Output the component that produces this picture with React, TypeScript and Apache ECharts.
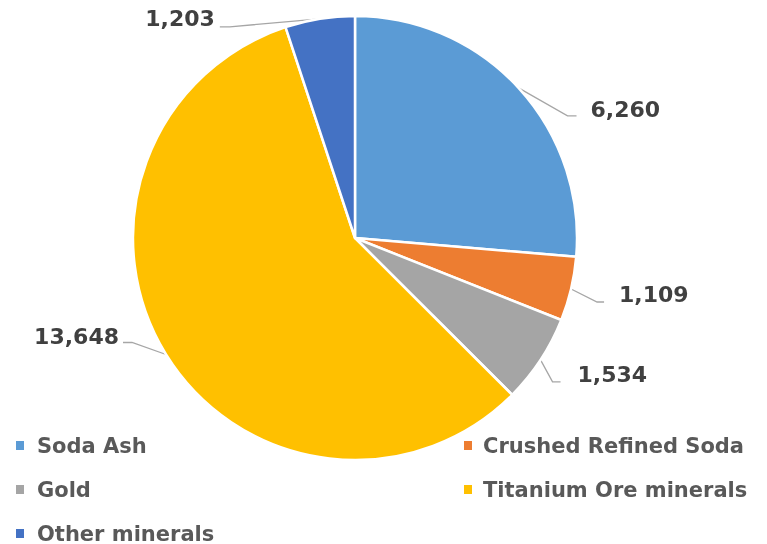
import React, { useEffect, useRef } from "react";
import * as echarts from "echarts";

const categories = ["Soda Ash", "Crushed Refined Soda", "Gold", "Titanium Ore minerals", "Other minerals"];
const values = [6260, 1109, 1534, 13648, 1203];
const colors = ["#5B9BD5", "#ED7D31", "#A5A5A5", "#FFC000", "#4472C4"];

// legend placement: [column, row] per category
const legendSlots = [
  [0, 0],
  [1, 0],
  [0, 1],
  [1, 1],
  [0, 2],
];
const legendColumns = [
  { left: 14, textPad: 7 },
  { left: 462, textPad: 5 },
];

// label leader layout: elbow offset from slice edge, horizontal tail, side
const leaderLayout = [
  { ex: 49, ey: 28, tail: 9, gap: 14, dy: -6, side: "right" },
  { ex: 26, ey: 13, tail: 7, gap: 15, dy: -7, side: "right" },
  { ex: 12, ey: 22, tail: 8, gap: 17, dy: -7, side: "right" },
  { ex: -34, ey: -12, tail: 9, gap: 4, dy: -6, side: "left" },
  { ex: -90, ey: 8, tail: 10, gap: 5, dy: -8, side: "left" },
];

const FONT = "'DejaVu Sans', Verdana, sans-serif";

export default function App() {
  const ref = useRef<HTMLDivElement>(null);
  useEffect(() => {
    document.body.style.margin = "0";
    const chart = echarts.init(ref.current!, null, { renderer: "svg" });
    const legends = categories.map((name, i) => {
      const col = legendColumns[legendSlots[i][0]];
      return {
        data: [name],
        left: col.left,
        top: 435 + legendSlots[i][1] * 44,
        padding: 0,
        icon: "rect",
        itemWidth: 10,
        itemHeight: 11,
        selectedMode: false,
        textStyle: {
          fontFamily: FONT,
          fontSize: 21,
          fontWeight: "bold",
          color: "#595959",
          padding: [0, 0, 0, col.textPad],
        },
      };
    });
    chart.setOption({
      animation: false,
      color: colors,
      legend: legends,
      series: [
        {
          type: "pie",
          center: [355, 238],
          radius: 222,
          startAngle: 90,
          clockwise: true,
          itemStyle: { borderColor: "#ffffff", borderWidth: 2.5 },
          label: {
            show: true,
            position: "outside",
            fontFamily: FONT,
            fontSize: 22,
            fontWeight: "bold",
            color: "#404040",
            formatter: (p: any) => p.value.toLocaleString("en-US"),
          },
          labelLine: { show: true, lineStyle: { color: "#A6A6A6", width: 1.3 } },
          labelLayout: (params: any) => {
            const cfg = leaderLayout[params.dataIndex];
            const pts = params.labelLinePoints;
            if (!pts || !cfg) return {};
            const a = pts[0];
            const elbow = [a[0] + cfg.ex, a[1] + cfg.ey];
            const dir = cfg.side === "right" ? 1 : -1;
            const end = [elbow[0] + dir * cfg.tail, elbow[1]];
            return {
              x: end[0] + dir * cfg.gap,
              y: elbow[1] + cfg.dy,
              align: cfg.side === "right" ? "left" : "right",
              verticalAlign: "middle",
              labelLinePoints: [a, elbow, end],
            };
          },
          data: categories.map((name, i) => ({ name, value: values[i] })),
        },
      ],
    });
    return () => chart.dispose();
  }, []);
  return <div ref={ref} style={{ position: "fixed", left: 0, top: 0, width: 767, height: 544 }} />;
}
